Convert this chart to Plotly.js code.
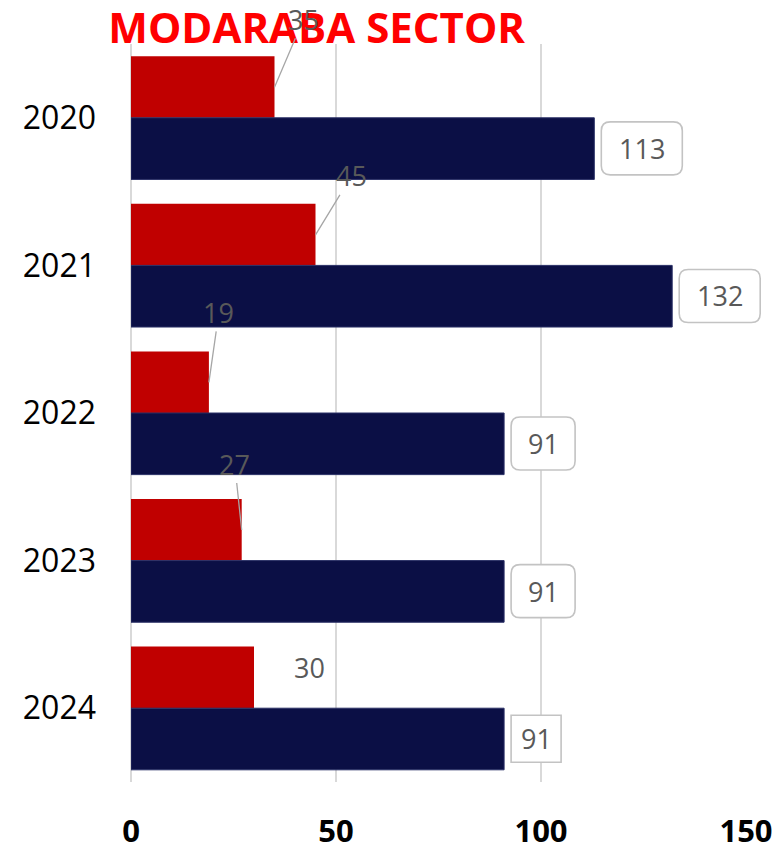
<!DOCTYPE html>
<html>
<head>
<meta charset="utf-8">
<script src="https://cdn.plot.ly/plotly-3.0.1.min.js"></script>
<style>html,body{margin:0;padding:0;background:#fff;}#chart{width:782px;height:849px;}</style>
</head>
<body>
<div id="chart"></div>
<script>
// ---- data ----
var years = ['2020', '2021', '2022', '2023', '2024'];
var redValues = [35, 45, 19, 27, 30];
var navyValues = [113, 132, 91, 91, 91];
var xTicks = [0, 50, 100, 150];
var xRange = [0, 150];

// ---- label placement (pixel offsets, styling only) ----
var redLabelOffsets = [[29, -68], [36, -59], [10, -70], [-7, -66], [55, 10]];
var redLabelArrow = [true, true, true, true, false];
var navyBoxRound = [true, true, true, true, false];

var RED = '#C00000', NAVY = '#0B0F45', LABEL = '#595959';
var GROUP_OFF = 0.207;

var traces = [
  {type: 'bar', orientation: 'h', y: years, x: redValues, name: 'A',
   marker: {color: RED}, hoverinfo: 'x'},
  {type: 'bar', orientation: 'h', y: years, x: navyValues, name: 'B',
   marker: {color: NAVY, line: {color: '#2a3066', width: 1}}, hoverinfo: 'x'}
];

var annotations = [];
var shapes = [];
redValues.forEach(function (v, i) {
  var off = redLabelOffsets[i];
  if (redLabelArrow[i]) {
    annotations.push({x: v, y: i - GROUP_OFF, xref: 'x', yref: 'y', text: String(v),
      showarrow: true, arrowhead: 0, arrowwidth: 1.3, arrowcolor: '#a6a6a6',
      ax: off[0], ay: off[1], standoff: 0, borderpad: 0,
      font: {family: 'Open Sans', size: 27, color: LABEL}});
  } else {
    annotations.push({x: v, y: i - GROUP_OFF, xref: 'x', yref: 'y', text: String(v),
      showarrow: false, xshift: off[0], yshift: off[1], xanchor: 'center',
      font: {family: 'Open Sans', size: 27, color: LABEL}});
  }
});

navyValues.forEach(function (v, i) {
  var txt = String(v);
  var round = navyBoxRound[i];
  var w = round ? 30 + 17 * txt.length : 50;
  var h = round ? 53 : 47;
  var gap = 7, r = round ? 9 : 0;
  var x0 = gap, x1 = gap + w, y0 = -h / 2, y1 = h / 2;
  var p = 'M' + (x0 + r) + ',' + y0 + ' L' + (x1 - r) + ',' + y0 +
    ' Q' + x1 + ',' + y0 + ' ' + x1 + ',' + (y0 + r) +
    ' L' + x1 + ',' + (y1 - r) + ' Q' + x1 + ',' + y1 + ' ' + (x1 - r) + ',' + y1 +
    ' L' + (x0 + r) + ',' + y1 + ' Q' + x0 + ',' + y1 + ' ' + x0 + ',' + (y1 - r) +
    ' L' + x0 + ',' + (y0 + r) + ' Q' + x0 + ',' + y0 + ' ' + (x0 + r) + ',' + y0 + ' Z';
  // paper x (same linear scale as the x axis) so the box is not clipped at the plot edge
  shapes.push({type: 'path', xref: 'paper', yref: 'y', xsizemode: 'pixel', ysizemode: 'pixel',
    xanchor: (v - xRange[0]) / (xRange[1] - xRange[0]), yanchor: i + GROUP_OFF, path: p,
    line: {color: '#c3c3c3', width: 1.6}, fillcolor: '#ffffff', layer: 'above'});
  annotations.push({x: v, y: i + GROUP_OFF, xref: 'x', yref: 'y', text: txt,
    showarrow: false, xanchor: 'center', yanchor: 'middle', xshift: gap + w / 2,
    font: {family: 'Open Sans', size: 27, color: LABEL}});
});

var layout = {
  width: 782, height: 849,
  margin: {l: 131, r: 36, t: 44, b: 67, pad: 0},
  paper_bgcolor: '#ffffff', plot_bgcolor: '#ffffff',
  showlegend: false,
  barmode: 'group', bargap: 0.165, bargroupgap: 0,
  title: {text: '<b>MODARABA SECTOR</b>', xref: 'container', yref: 'container',
    x: 0.405, xanchor: 'center', y: 1 - 28 / 849, yanchor: 'middle',
    font: {family: 'Open Sans', size: 42, color: '#FF0000'}},
  xaxis: {range: xRange, tickvals: xTicks, ticktext: xTicks.map(String),
    showgrid: true, gridcolor: '#d9d9d9', gridwidth: 1.5,
    zeroline: true, zerolinecolor: '#d9d9d9', zerolinewidth: 1.5,
    showline: false, ticks: '', ticklabelstandoff: 28,
    tickfont: {family: 'Open Sans', size: 31, color: '#000000', weight: 'bold'},
    fixedrange: true},
  yaxis: {type: 'category', autorange: 'reversed', showgrid: false, zeroline: false,
    showline: false, ticks: '', ticklabelstandoff: 34,
    tickfont: {family: 'Open Sans', size: 32, color: '#000000'}, fixedrange: true},
  annotations: annotations,
  shapes: shapes
};

Plotly.newPlot('chart', traces, layout, {displayModeBar: false, staticPlot: true});
</script>
</body>
</html>
